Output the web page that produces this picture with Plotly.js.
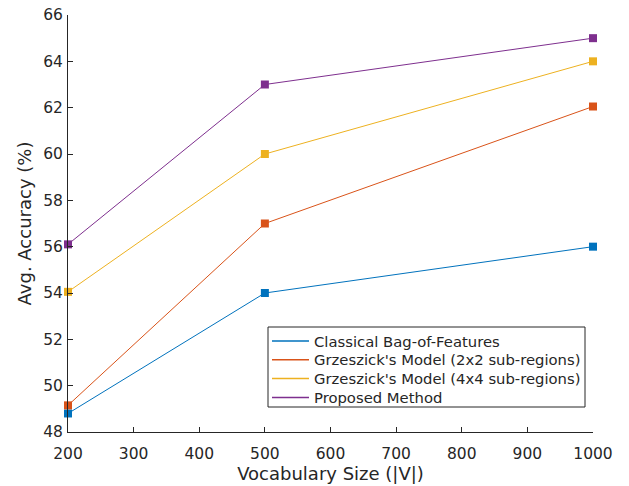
<!DOCTYPE html>
<html>
<head>
<meta charset="utf-8">
<script src="https://cdn.plot.ly/plotly-3.0.1.min.js"></script>
<style>
html,body{margin:0;padding:0;background:#fff;}
#chart{width:629px;height:486px;}
</style>
</head>
<body>
<div id="chart"></div>
<script>
const vocabSizes = [200, 500, 1000];
const seriesNames = [
  "Classical Bag-of-Features",
  "Grzeszick's Model (2x2 sub-regions)",
  "Grzeszick's Model (4x4 sub-regions)",
  "Proposed Method"
];
const classicalBoF = [48.8, 54.0, 56.0];
const grzeszick2x2 = [49.15, 57.0, 62.05];
const grzeszick4x4 = [54.05, 60.0, 64.0];
const proposedMethod = [56.1, 63.0, 65.0];
const seriesColors = ["#0072BD", "#D95319", "#EDB120", "#7E2F8E"];
const yTicks = [48, 50, 52, 54, 56, 58, 60, 62, 64, 66];
const xTicks = [200, 300, 400, 500, 600, 700, 800, 900, 1000];

const allSeries = [classicalBoF, grzeszick2x2, grzeszick4x4, proposedMethod];
const traces = [];
allSeries.forEach((vals, i) => {
  traces.push({
    x: vocabSizes, y: vals, type: 'scatter', mode: 'lines+markers',
    name: seriesNames[i],
    line: {color: seriesColors[i], width: 1},
    marker: {symbol: 'square', size: 8, color: seriesColors[i]},
    cliponaxis: false,
    showlegend: false, hoverinfo: 'skip'
  });
});

// Figure geometry (pixels)
const W = 629, H = 486;
const M = {l: 68, r: 36, t: 15, b: 54};
const plotW = W - M.l - M.r, plotH = H - M.t - M.b;
const px = x => (x - M.l) / plotW;
const py = y => (H - M.b - y) / plotH;

// MATLAB-style legend box built from shapes and annotations
const legBox = {x0: 268, x1: 585, y0: 327, y1: 407};
const rowY0 = 341, rowStep = 18.8;
const shapes = [{
  type: 'rect', xref: 'paper', yref: 'paper',
  x0: px(legBox.x0), x1: px(legBox.x1), y0: py(legBox.y1), y1: py(legBox.y0),
  line: {color: '#262626', width: 1}, fillcolor: '#fff', layer: 'above'
}];
const annotations = [];
seriesNames.forEach((name, i) => {
  const yy = rowY0 + i * rowStep;
  shapes.push({
    type: 'line', xref: 'paper', yref: 'paper',
    x0: px(272), x1: px(309), y0: py(yy), y1: py(yy),
    line: {color: seriesColors[i], width: 1.5}, layer: 'above'
  });
  annotations.push({
    xref: 'paper', yref: 'paper', x: px(312), y: py(yy),
    xanchor: 'left', yanchor: 'middle', showarrow: false,
    text: name, font: {family: 'DejaVu Sans', size: 14.8, color: '#262626'}
  });
});

const axisCommon = {
  showgrid: false, zeroline: false, showline: true,
  linecolor: '#262626', linewidth: 1,
  ticks: 'inside', ticklen: 5, tickcolor: '#262626', tickwidth: 1,
  tickfont: {family: 'DejaVu Sans', size: 15.5, color: '#262626'},
  mirror: false, automargin: false
};

const layout = {
  width: W, height: H,
  margin: M,
  paper_bgcolor: '#fff', plot_bgcolor: '#fff',
  font: {family: 'DejaVu Sans', color: '#262626'},
  showlegend: false,
  xaxis: Object.assign({}, axisCommon, {
    range: [200, 1000], tickvals: xTicks, ticktext: xTicks.map(String),
    ticklabelstandoff: 7,
    title: {text: 'Vocabulary Size (|V|)', font: {family: 'DejaVu Sans', size: 18, color: '#262626'}, standoff: 2}
  }),
  yaxis: Object.assign({}, axisCommon, {
    range: [48, 66], tickvals: yTicks, ticktext: yTicks.map(String),
    ticklabelstandoff: 1,
    title: {text: 'Avg. Accuracy (%)', font: {family: 'DejaVu Sans', size: 18, color: '#262626'}, standoff: 6}
  }),
  shapes: shapes,
  annotations: annotations
};

Plotly.newPlot('chart', traces, layout, {displayModeBar: false, staticPlot: true});
</script>
</body>
</html>
